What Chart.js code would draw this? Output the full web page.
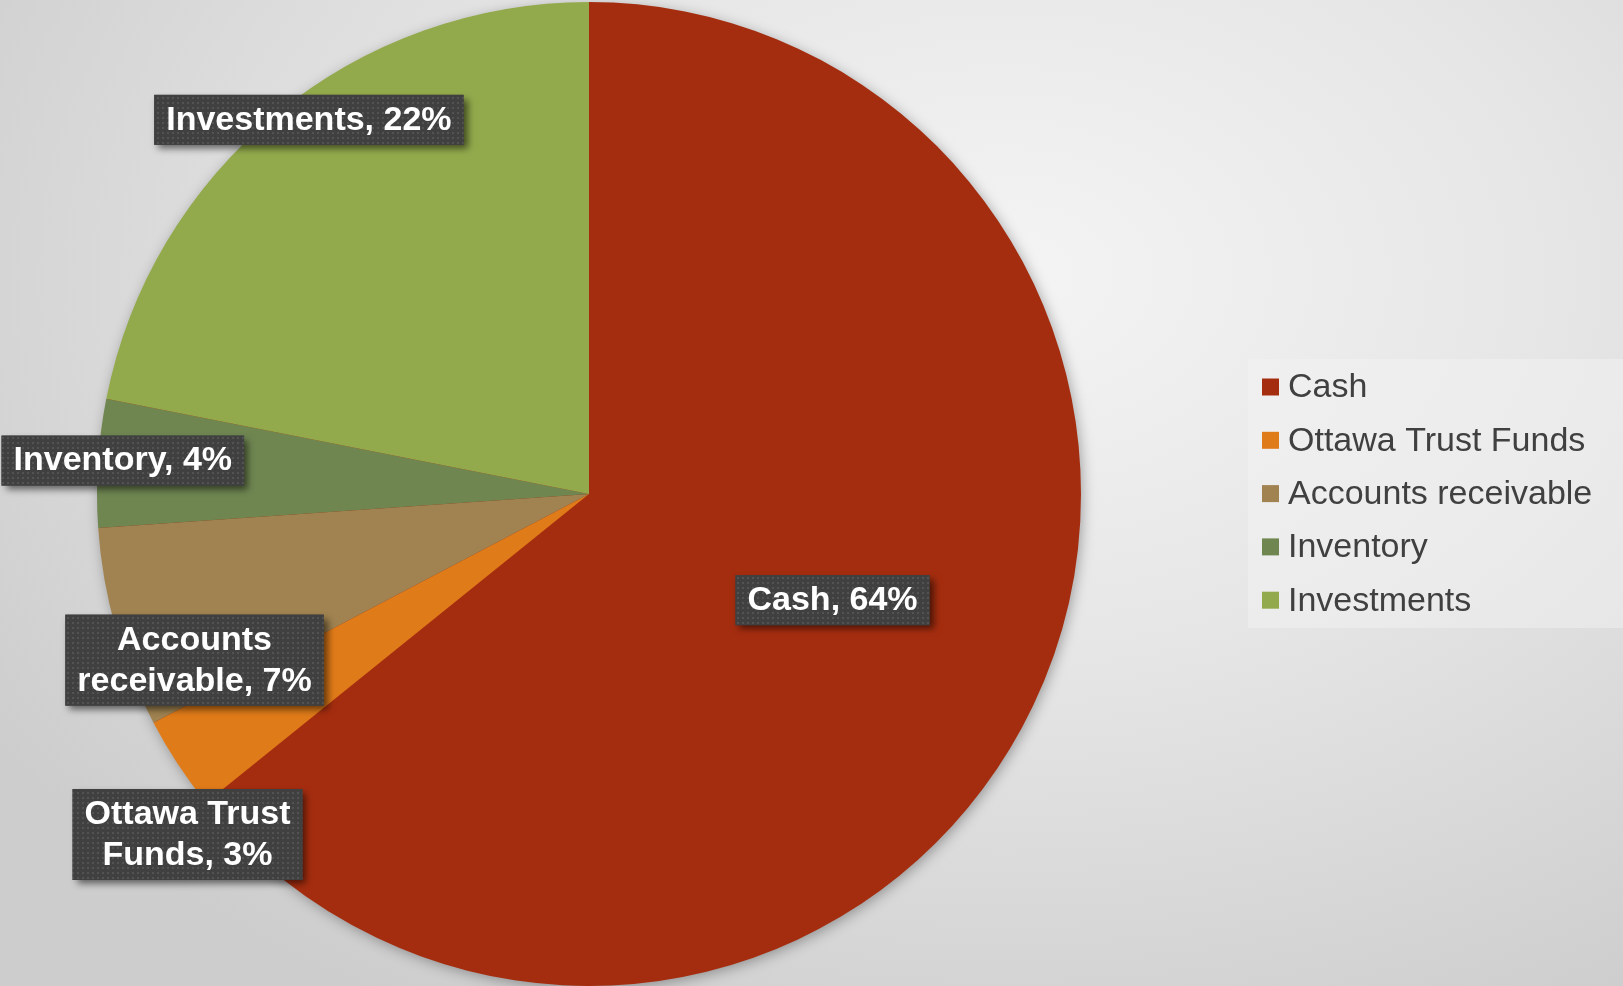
<!DOCTYPE html>
<html>
<head>
<meta charset="utf-8">
<script src="https://cdn.jsdelivr.net/npm/chart.js@4.4.1/dist/chart.umd.min.js"></script>
<style>
  html, body { margin: 0; padding: 0; }
  body {
    width: 1623px; height: 986px; overflow: hidden;
    background: radial-gradient(ellipse 75% 85% at 62% 28%, #f4f4f4 0%, #e6e6e6 45%, #cdcdcd 100%);
  }
  #wrap { position: relative; width: 1623px; height: 986px; }
</style>
</head>
<body>
<div id="wrap"><canvas id="pie" width="1623" height="986"></canvas></div>
<script>
// data (share of total, %)
var categories = ["Cash", "Ottawa Trust Funds", "Accounts receivable", "Inventory", "Investments"];
var shares = [64.2, 3.1, 6.6, 4.2, 21.9];
var labelLines = [["Cash, 64%"], ["Ottawa Trust", "Funds, 3%"], ["Accounts", "receivable, 7%"], ["Inventory, 4%"], ["Investments, 22%"]];
var colors = ["#a52d0f", "#e07b19", "#a08350", "#6f8651", "#93aa4c"];

// where each data label sits: fraction of radius, and turn from slice middle (deg)
var labelDist = [0.54, 1.07, 0.87, 0.95, 0.95];
var labelTurn = [-2, -7, -7, 0.5, 2.6];

function dotPattern(ctx) {
  var p = document.createElement("canvas");
  p.width = 5; p.height = 5;
  var c = p.getContext("2d");
  c.fillStyle = "#404040";
  c.fillRect(0, 0, 5, 5);
  c.fillStyle = "#535353";
  c.fillRect(2, 2, 2, 2);
  return ctx.createPattern(p, "repeat");
}

var pieShadow = {
  id: "pieShadow",
  beforeDatasetsDraw: function (chart) {
    var arc = chart.getDatasetMeta(0).data[0];
    if (!arc) return;
    var ctx = chart.ctx;
    ctx.save();
    ctx.shadowColor = "rgba(0,0,0,0.35)";
    ctx.shadowBlur = 14;
    ctx.shadowOffsetX = 2;
    ctx.shadowOffsetY = 3;
    ctx.fillStyle = colors[0];
    ctx.beginPath();
    ctx.arc(arc.x, arc.y, arc.outerRadius - 1, 0, Math.PI * 2);
    ctx.fill();
    ctx.restore();
  }
};

var sliceLabels = {
  id: "sliceLabels",
  afterDatasetsDraw: function (chart) {
    var ctx = chart.ctx;
    var meta = chart.getDatasetMeta(0);
    var pat = dotPattern(ctx);
    ctx.save();
    ctx.font = "bold 34px 'Liberation Sans', Arial, sans-serif";
    ctx.textAlign = "center";
    ctx.textBaseline = "middle";
    meta.data.forEach(function (arc, i) {
      var mid = (arc.startAngle + arc.endAngle) / 2 + labelTurn[i] * Math.PI / 180;
      var r = arc.outerRadius * labelDist[i];
      var cx = arc.x + Math.cos(mid) * r;
      var cy = arc.y + Math.sin(mid) * r;
      var lines = labelLines[i];
      var w = 0;
      lines.forEach(function (l) { w = Math.max(w, ctx.measureText(l).width); });
      var lh = 41;
      var bw = w + 24, bh = lines.length * lh + 9;
      var bx = cx - bw / 2, by = cy - bh / 2;
      ctx.save();
      ctx.shadowColor = "rgba(0,0,0,0.55)";
      ctx.shadowBlur = 7;
      ctx.shadowOffsetX = 4;
      ctx.shadowOffsetY = 4;
      ctx.fillStyle = "#404040";
      ctx.fillRect(bx, by, bw, bh);
      ctx.restore();
      ctx.fillStyle = pat;
      ctx.fillRect(bx, by, bw, bh);
      ctx.fillStyle = "#ffffff";
      lines.forEach(function (l, k) {
        ctx.fillText(l, cx, by + 4 + lh * k + lh / 2 + 1);
      });
    });
    ctx.restore();
  }
};

var sideLegend = {
  id: "sideLegend",
  afterDraw: function (chart) {
    var ctx = chart.ctx;
    var x0 = 1248, y0 = 359, w = 375, h = 269;
    ctx.save();
    ctx.fillStyle = "rgba(245,245,245,0.45)";
    ctx.fillRect(x0, y0, w, h);
    ctx.font = "34px 'Liberation Sans', Arial, sans-serif";
    ctx.textBaseline = "middle";
    ctx.textAlign = "left";
    chart.data.labels.forEach(function (lab, i) {
      var cy = 387 + i * 53.3;
      ctx.fillStyle = chart.data.datasets[0].backgroundColor[i];
      ctx.fillRect(1262, cy - 8.5, 17, 17);
      ctx.fillStyle = "#404040";
      ctx.fillText(lab, 1288, cy + 1);
    });
    ctx.restore();
  }
};

new Chart(document.getElementById("pie").getContext("2d"), {
  type: "pie",
  data: {
    labels: categories,
    datasets: [{
      data: shares,
      backgroundColor: colors,
      borderWidth: 0
    }]
  },
  options: {
    responsive: false,
    animation: false,
    layout: { padding: { left: 97, right: 542, top: 2, bottom: 0 } },
    plugins: {
      legend: { display: false },
      tooltip: { enabled: false }
    }
  },
  plugins: [pieShadow, sliceLabels, sideLegend]
});
</script>
</body>
</html>
